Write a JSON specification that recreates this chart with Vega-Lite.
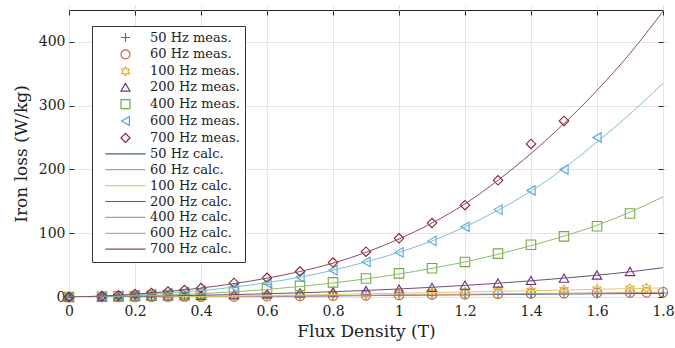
{
  "$schema": "https://vega.github.io/schema/vega-lite/v6.json",
  "width": 594,
  "height": 287,
  "autosize": {"type": "none"},
  "padding": {"left": 69, "top": 10, "right": 12, "bottom": 51},
  "config": {
    "font": "DejaVu Serif",
    "view": {"stroke": "#262626", "strokeWidth": 1},
    "axis": {
      "labelFont": "DejaVu Serif",
      "titleFont": "DejaVu Serif",
      "labelFontSize": 14,
      "titleFontSize": 17,
      "titleFontWeight": "normal",
      "labelColor": "#222222",
      "titleColor": "#222222",
      "tickColor": "#262626",
      "tickWidth": 1,
      "tickSize": 5,
      "offset": -5,
      "domain": false,
      "gridColor": "#e3e3e3",
      "gridWidth": 1
    },
    "legend": {
      "labelFont": "DejaVu Serif",
      "labelFontSize": 13,
      "labelColor": "#222222"
    }
  },
  "datasets": {
    "meas": [
      {"s": "50 Hz meas.", "B": 0, "P": 0},
      {"s": "50 Hz meas.", "B": 0.1, "P": 0.03},
      {"s": "50 Hz meas.", "B": 0.15, "P": 0.07},
      {"s": "50 Hz meas.", "B": 0.2, "P": 0.12},
      {"s": "50 Hz meas.", "B": 0.25, "P": 0.18},
      {"s": "50 Hz meas.", "B": 0.3, "P": 0.26},
      {"s": "50 Hz meas.", "B": 0.35, "P": 0.35},
      {"s": "50 Hz meas.", "B": 0.4, "P": 0.45},
      {"s": "50 Hz meas.", "B": 0.5, "P": 0.7},
      {"s": "50 Hz meas.", "B": 0.6, "P": 1.0},
      {"s": "50 Hz meas.", "B": 0.7, "P": 1.35},
      {"s": "50 Hz meas.", "B": 0.8, "P": 1.75},
      {"s": "50 Hz meas.", "B": 0.9, "P": 2.2},
      {"s": "50 Hz meas.", "B": 1.0, "P": 2.7},
      {"s": "50 Hz meas.", "B": 1.1, "P": 3.2},
      {"s": "50 Hz meas.", "B": 1.2, "P": 3.7},
      {"s": "50 Hz meas.", "B": 1.3, "P": 4.2},
      {"s": "50 Hz meas.", "B": 1.4, "P": 4.7},
      {"s": "50 Hz meas.", "B": 1.5, "P": 5.1},
      {"s": "50 Hz meas.", "B": 1.6, "P": 5.5},
      {"s": "50 Hz meas.", "B": 1.7, "P": 5.9},
      {"s": "50 Hz meas.", "B": 1.8, "P": 6.3},
      {"s": "60 Hz meas.", "B": 0, "P": 0},
      {"s": "60 Hz meas.", "B": 0.1, "P": 0.04},
      {"s": "60 Hz meas.", "B": 0.15, "P": 0.09},
      {"s": "60 Hz meas.", "B": 0.2, "P": 0.15},
      {"s": "60 Hz meas.", "B": 0.25, "P": 0.23},
      {"s": "60 Hz meas.", "B": 0.3, "P": 0.32},
      {"s": "60 Hz meas.", "B": 0.35, "P": 0.43},
      {"s": "60 Hz meas.", "B": 0.4, "P": 0.55},
      {"s": "60 Hz meas.", "B": 0.5, "P": 0.85},
      {"s": "60 Hz meas.", "B": 0.6, "P": 1.2},
      {"s": "60 Hz meas.", "B": 0.7, "P": 1.6},
      {"s": "60 Hz meas.", "B": 0.8, "P": 2.1},
      {"s": "60 Hz meas.", "B": 0.9, "P": 2.6},
      {"s": "60 Hz meas.", "B": 1.0, "P": 3.2},
      {"s": "60 Hz meas.", "B": 1.1, "P": 3.8},
      {"s": "60 Hz meas.", "B": 1.2, "P": 4.4},
      {"s": "60 Hz meas.", "B": 1.3, "P": 5.0},
      {"s": "60 Hz meas.", "B": 1.4, "P": 5.5},
      {"s": "60 Hz meas.", "B": 1.5, "P": 6.0},
      {"s": "60 Hz meas.", "B": 1.6, "P": 6.5},
      {"s": "60 Hz meas.", "B": 1.7, "P": 7.0},
      {"s": "60 Hz meas.", "B": 1.75, "P": 7.3},
      {"s": "60 Hz meas.", "B": 1.8, "P": 7.6},
      {"s": "100 Hz meas.", "B": 0, "P": 0},
      {"s": "100 Hz meas.", "B": 0.1, "P": 0.08},
      {"s": "100 Hz meas.", "B": 0.15, "P": 0.17},
      {"s": "100 Hz meas.", "B": 0.2, "P": 0.3},
      {"s": "100 Hz meas.", "B": 0.25, "P": 0.45},
      {"s": "100 Hz meas.", "B": 0.3, "P": 0.62},
      {"s": "100 Hz meas.", "B": 0.35, "P": 0.82},
      {"s": "100 Hz meas.", "B": 0.4, "P": 1.05},
      {"s": "100 Hz meas.", "B": 0.5, "P": 1.6},
      {"s": "100 Hz meas.", "B": 0.6, "P": 2.3},
      {"s": "100 Hz meas.", "B": 0.7, "P": 3.1},
      {"s": "100 Hz meas.", "B": 0.8, "P": 4.0},
      {"s": "100 Hz meas.", "B": 0.9, "P": 5.0},
      {"s": "100 Hz meas.", "B": 1.0, "P": 6.0},
      {"s": "100 Hz meas.", "B": 1.1, "P": 7.0},
      {"s": "100 Hz meas.", "B": 1.2, "P": 8.0},
      {"s": "100 Hz meas.", "B": 1.3, "P": 9.0},
      {"s": "100 Hz meas.", "B": 1.4, "P": 10.0},
      {"s": "100 Hz meas.", "B": 1.5, "P": 11.0},
      {"s": "100 Hz meas.", "B": 1.6, "P": 12.0},
      {"s": "100 Hz meas.", "B": 1.7, "P": 13.2},
      {"s": "100 Hz meas.", "B": 1.75, "P": 14.0},
      {"s": "200 Hz meas.", "B": 0, "P": 0},
      {"s": "200 Hz meas.", "B": 0.1, "P": 0.3},
      {"s": "200 Hz meas.", "B": 0.15, "P": 0.6},
      {"s": "200 Hz meas.", "B": 0.2, "P": 0.9},
      {"s": "200 Hz meas.", "B": 0.25, "P": 1.3},
      {"s": "200 Hz meas.", "B": 0.3, "P": 1.7},
      {"s": "200 Hz meas.", "B": 0.35, "P": 2.2},
      {"s": "200 Hz meas.", "B": 0.4, "P": 2.7},
      {"s": "200 Hz meas.", "B": 0.5, "P": 3.8},
      {"s": "200 Hz meas.", "B": 0.6, "P": 5.0},
      {"s": "200 Hz meas.", "B": 0.7, "P": 6.5},
      {"s": "200 Hz meas.", "B": 0.8, "P": 8.2},
      {"s": "200 Hz meas.", "B": 0.9, "P": 10.2},
      {"s": "200 Hz meas.", "B": 1.0, "P": 12.5},
      {"s": "200 Hz meas.", "B": 1.1, "P": 15.0},
      {"s": "200 Hz meas.", "B": 1.2, "P": 18.5},
      {"s": "200 Hz meas.", "B": 1.3, "P": 22.0},
      {"s": "200 Hz meas.", "B": 1.4, "P": 26.0},
      {"s": "200 Hz meas.", "B": 1.5, "P": 29.5},
      {"s": "200 Hz meas.", "B": 1.6, "P": 34.5},
      {"s": "200 Hz meas.", "B": 1.7, "P": 40.0},
      {"s": "400 Hz meas.", "B": 0, "P": 0},
      {"s": "400 Hz meas.", "B": 0.1, "P": 0.5},
      {"s": "400 Hz meas.", "B": 0.15, "P": 1.0},
      {"s": "400 Hz meas.", "B": 0.2, "P": 1.6},
      {"s": "400 Hz meas.", "B": 0.25, "P": 2.3},
      {"s": "400 Hz meas.", "B": 0.3, "P": 3.1},
      {"s": "400 Hz meas.", "B": 0.35, "P": 4.1},
      {"s": "400 Hz meas.", "B": 0.4, "P": 5.2},
      {"s": "400 Hz meas.", "B": 0.5, "P": 8.0},
      {"s": "400 Hz meas.", "B": 0.6, "P": 12.5},
      {"s": "400 Hz meas.", "B": 0.7, "P": 17.5},
      {"s": "400 Hz meas.", "B": 0.8, "P": 23.0},
      {"s": "400 Hz meas.", "B": 0.9, "P": 29.0},
      {"s": "400 Hz meas.", "B": 1.0, "P": 37.0},
      {"s": "400 Hz meas.", "B": 1.1, "P": 45.0},
      {"s": "400 Hz meas.", "B": 1.2, "P": 55.0},
      {"s": "400 Hz meas.", "B": 1.3, "P": 68.0},
      {"s": "400 Hz meas.", "B": 1.4, "P": 82.0},
      {"s": "400 Hz meas.", "B": 1.5, "P": 95.0},
      {"s": "400 Hz meas.", "B": 1.6, "P": 111.0},
      {"s": "400 Hz meas.", "B": 1.7, "P": 131.0},
      {"s": "600 Hz meas.", "B": 0, "P": 0},
      {"s": "600 Hz meas.", "B": 0.1, "P": 1.0},
      {"s": "600 Hz meas.", "B": 0.15, "P": 2.0},
      {"s": "600 Hz meas.", "B": 0.2, "P": 3.2},
      {"s": "600 Hz meas.", "B": 0.25, "P": 4.5},
      {"s": "600 Hz meas.", "B": 0.3, "P": 6.0},
      {"s": "600 Hz meas.", "B": 0.35, "P": 8.0},
      {"s": "600 Hz meas.", "B": 0.4, "P": 10.0},
      {"s": "600 Hz meas.", "B": 0.5, "P": 15.5},
      {"s": "600 Hz meas.", "B": 0.6, "P": 22.0},
      {"s": "600 Hz meas.", "B": 0.7, "P": 31.0},
      {"s": "600 Hz meas.", "B": 0.8, "P": 42.0},
      {"s": "600 Hz meas.", "B": 0.9, "P": 55.0},
      {"s": "600 Hz meas.", "B": 1.0, "P": 70.0},
      {"s": "600 Hz meas.", "B": 1.1, "P": 88.0},
      {"s": "600 Hz meas.", "B": 1.2, "P": 110.0},
      {"s": "600 Hz meas.", "B": 1.3, "P": 137.0},
      {"s": "600 Hz meas.", "B": 1.4, "P": 167.0},
      {"s": "600 Hz meas.", "B": 1.5, "P": 200.0},
      {"s": "600 Hz meas.", "B": 1.6, "P": 250.0},
      {"s": "700 Hz meas.", "B": 0, "P": 0},
      {"s": "700 Hz meas.", "B": 0.1, "P": 1.5},
      {"s": "700 Hz meas.", "B": 0.15, "P": 2.8},
      {"s": "700 Hz meas.", "B": 0.2, "P": 4.5},
      {"s": "700 Hz meas.", "B": 0.25, "P": 6.3},
      {"s": "700 Hz meas.", "B": 0.3, "P": 8.5},
      {"s": "700 Hz meas.", "B": 0.35, "P": 11.0},
      {"s": "700 Hz meas.", "B": 0.4, "P": 14.0},
      {"s": "700 Hz meas.", "B": 0.5, "P": 22.0},
      {"s": "700 Hz meas.", "B": 0.6, "P": 30.0},
      {"s": "700 Hz meas.", "B": 0.7, "P": 40.0},
      {"s": "700 Hz meas.", "B": 0.8, "P": 54.0},
      {"s": "700 Hz meas.", "B": 0.9, "P": 71.0},
      {"s": "700 Hz meas.", "B": 1.0, "P": 92.0},
      {"s": "700 Hz meas.", "B": 1.1, "P": 116.0},
      {"s": "700 Hz meas.", "B": 1.2, "P": 144.0},
      {"s": "700 Hz meas.", "B": 1.3, "P": 183.0},
      {"s": "700 Hz meas.", "B": 1.4, "P": 240.0},
      {"s": "700 Hz meas.", "B": 1.5, "P": 276.0}
    ],
    "calc": [
      {"s": "50 Hz calc.", "B": 0, "P": 0},
      {"s": "50 Hz calc.", "B": 0.1, "P": 0.03},
      {"s": "50 Hz calc.", "B": 0.2, "P": 0.12},
      {"s": "50 Hz calc.", "B": 0.3, "P": 0.26},
      {"s": "50 Hz calc.", "B": 0.4, "P": 0.45},
      {"s": "50 Hz calc.", "B": 0.5, "P": 0.7},
      {"s": "50 Hz calc.", "B": 0.6, "P": 1.0},
      {"s": "50 Hz calc.", "B": 0.7, "P": 1.35},
      {"s": "50 Hz calc.", "B": 0.8, "P": 1.75},
      {"s": "50 Hz calc.", "B": 0.9, "P": 2.2},
      {"s": "50 Hz calc.", "B": 1.0, "P": 2.65},
      {"s": "50 Hz calc.", "B": 1.1, "P": 3.1},
      {"s": "50 Hz calc.", "B": 1.2, "P": 3.5},
      {"s": "50 Hz calc.", "B": 1.3, "P": 3.9},
      {"s": "50 Hz calc.", "B": 1.4, "P": 4.3},
      {"s": "50 Hz calc.", "B": 1.5, "P": 4.7},
      {"s": "50 Hz calc.", "B": 1.6, "P": 5.0},
      {"s": "50 Hz calc.", "B": 1.7, "P": 5.3},
      {"s": "50 Hz calc.", "B": 1.8, "P": 5.6},
      {"s": "60 Hz calc.", "B": 0, "P": 0},
      {"s": "60 Hz calc.", "B": 0.1, "P": 0.04},
      {"s": "60 Hz calc.", "B": 0.2, "P": 0.15},
      {"s": "60 Hz calc.", "B": 0.3, "P": 0.32},
      {"s": "60 Hz calc.", "B": 0.4, "P": 0.55},
      {"s": "60 Hz calc.", "B": 0.5, "P": 0.85},
      {"s": "60 Hz calc.", "B": 0.6, "P": 1.2},
      {"s": "60 Hz calc.", "B": 0.7, "P": 1.6},
      {"s": "60 Hz calc.", "B": 0.8, "P": 2.1},
      {"s": "60 Hz calc.", "B": 0.9, "P": 2.6},
      {"s": "60 Hz calc.", "B": 1.0, "P": 3.15},
      {"s": "60 Hz calc.", "B": 1.1, "P": 3.7},
      {"s": "60 Hz calc.", "B": 1.2, "P": 4.25},
      {"s": "60 Hz calc.", "B": 1.3, "P": 4.8},
      {"s": "60 Hz calc.", "B": 1.4, "P": 5.35},
      {"s": "60 Hz calc.", "B": 1.5, "P": 5.9},
      {"s": "60 Hz calc.", "B": 1.6, "P": 6.4},
      {"s": "60 Hz calc.", "B": 1.7, "P": 6.9},
      {"s": "60 Hz calc.", "B": 1.8, "P": 7.4},
      {"s": "100 Hz calc.", "B": 0, "P": 0},
      {"s": "100 Hz calc.", "B": 0.1, "P": 0.08},
      {"s": "100 Hz calc.", "B": 0.2, "P": 0.3},
      {"s": "100 Hz calc.", "B": 0.3, "P": 0.62},
      {"s": "100 Hz calc.", "B": 0.4, "P": 1.05},
      {"s": "100 Hz calc.", "B": 0.5, "P": 1.6},
      {"s": "100 Hz calc.", "B": 0.6, "P": 2.3},
      {"s": "100 Hz calc.", "B": 0.7, "P": 3.1},
      {"s": "100 Hz calc.", "B": 0.8, "P": 4.0},
      {"s": "100 Hz calc.", "B": 0.9, "P": 4.9},
      {"s": "100 Hz calc.", "B": 1.0, "P": 5.9},
      {"s": "100 Hz calc.", "B": 1.1, "P": 6.9},
      {"s": "100 Hz calc.", "B": 1.2, "P": 7.9},
      {"s": "100 Hz calc.", "B": 1.3, "P": 8.9},
      {"s": "100 Hz calc.", "B": 1.4, "P": 9.9},
      {"s": "100 Hz calc.", "B": 1.5, "P": 10.9},
      {"s": "100 Hz calc.", "B": 1.6, "P": 12.0},
      {"s": "100 Hz calc.", "B": 1.7, "P": 13.1},
      {"s": "100 Hz calc.", "B": 1.8, "P": 14.3},
      {"s": "200 Hz calc.", "B": 0, "P": 0},
      {"s": "200 Hz calc.", "B": 0.1, "P": 0.3},
      {"s": "200 Hz calc.", "B": 0.2, "P": 0.9},
      {"s": "200 Hz calc.", "B": 0.3, "P": 1.7},
      {"s": "200 Hz calc.", "B": 0.4, "P": 2.7},
      {"s": "200 Hz calc.", "B": 0.5, "P": 3.8},
      {"s": "200 Hz calc.", "B": 0.6, "P": 5.1},
      {"s": "200 Hz calc.", "B": 0.7, "P": 6.6},
      {"s": "200 Hz calc.", "B": 0.8, "P": 8.3},
      {"s": "200 Hz calc.", "B": 0.9, "P": 10.3},
      {"s": "200 Hz calc.", "B": 1.0, "P": 12.6},
      {"s": "200 Hz calc.", "B": 1.1, "P": 15.2},
      {"s": "200 Hz calc.", "B": 1.2, "P": 18.2},
      {"s": "200 Hz calc.", "B": 1.3, "P": 21.6},
      {"s": "200 Hz calc.", "B": 1.4, "P": 25.4},
      {"s": "200 Hz calc.", "B": 1.5, "P": 29.6},
      {"s": "200 Hz calc.", "B": 1.6, "P": 34.2},
      {"s": "200 Hz calc.", "B": 1.7, "P": 39.5},
      {"s": "200 Hz calc.", "B": 1.8, "P": 46.0},
      {"s": "400 Hz calc.", "B": 0, "P": 0},
      {"s": "400 Hz calc.", "B": 0.1, "P": 0.5},
      {"s": "400 Hz calc.", "B": 0.2, "P": 1.6},
      {"s": "400 Hz calc.", "B": 0.3, "P": 3.1},
      {"s": "400 Hz calc.", "B": 0.4, "P": 5.2},
      {"s": "400 Hz calc.", "B": 0.5, "P": 8.0},
      {"s": "400 Hz calc.", "B": 0.6, "P": 11.8},
      {"s": "400 Hz calc.", "B": 0.7, "P": 16.5},
      {"s": "400 Hz calc.", "B": 0.8, "P": 22.0},
      {"s": "400 Hz calc.", "B": 0.9, "P": 28.5},
      {"s": "400 Hz calc.", "B": 1.0, "P": 36.0},
      {"s": "400 Hz calc.", "B": 1.1, "P": 45.0},
      {"s": "400 Hz calc.", "B": 1.2, "P": 55.0},
      {"s": "400 Hz calc.", "B": 1.3, "P": 67.0},
      {"s": "400 Hz calc.", "B": 1.4, "P": 80.5},
      {"s": "400 Hz calc.", "B": 1.5, "P": 95.5},
      {"s": "400 Hz calc.", "B": 1.6, "P": 112.5},
      {"s": "400 Hz calc.", "B": 1.7, "P": 133.0},
      {"s": "400 Hz calc.", "B": 1.8, "P": 157.0},
      {"s": "600 Hz calc.", "B": 0, "P": 0},
      {"s": "600 Hz calc.", "B": 0.1, "P": 1.1},
      {"s": "600 Hz calc.", "B": 0.2, "P": 3.3},
      {"s": "600 Hz calc.", "B": 0.3, "P": 6.2},
      {"s": "600 Hz calc.", "B": 0.4, "P": 10.0},
      {"s": "600 Hz calc.", "B": 0.5, "P": 15.5},
      {"s": "600 Hz calc.", "B": 0.6, "P": 22.5},
      {"s": "600 Hz calc.", "B": 0.7, "P": 31.0},
      {"s": "600 Hz calc.", "B": 0.8, "P": 42.0},
      {"s": "600 Hz calc.", "B": 0.9, "P": 55.0},
      {"s": "600 Hz calc.", "B": 1.0, "P": 70.0},
      {"s": "600 Hz calc.", "B": 1.1, "P": 88.0},
      {"s": "600 Hz calc.", "B": 1.2, "P": 110.0},
      {"s": "600 Hz calc.", "B": 1.3, "P": 136.0},
      {"s": "600 Hz calc.", "B": 1.4, "P": 166.0},
      {"s": "600 Hz calc.", "B": 1.5, "P": 202.0},
      {"s": "600 Hz calc.", "B": 1.6, "P": 243.0},
      {"s": "600 Hz calc.", "B": 1.7, "P": 287.0},
      {"s": "600 Hz calc.", "B": 1.8, "P": 335.0},
      {"s": "700 Hz calc.", "B": 0, "P": 0},
      {"s": "700 Hz calc.", "B": 0.1, "P": 1.5},
      {"s": "700 Hz calc.", "B": 0.2, "P": 4.5},
      {"s": "700 Hz calc.", "B": 0.3, "P": 8.7},
      {"s": "700 Hz calc.", "B": 0.4, "P": 14.0},
      {"s": "700 Hz calc.", "B": 0.5, "P": 21.0},
      {"s": "700 Hz calc.", "B": 0.6, "P": 29.5},
      {"s": "700 Hz calc.", "B": 0.7, "P": 40.0},
      {"s": "700 Hz calc.", "B": 0.8, "P": 53.0},
      {"s": "700 Hz calc.", "B": 0.9, "P": 70.0},
      {"s": "700 Hz calc.", "B": 1.0, "P": 91.0},
      {"s": "700 Hz calc.", "B": 1.1, "P": 116.0},
      {"s": "700 Hz calc.", "B": 1.2, "P": 146.0},
      {"s": "700 Hz calc.", "B": 1.3, "P": 183.0},
      {"s": "700 Hz calc.", "B": 1.4, "P": 225.0},
      {"s": "700 Hz calc.", "B": 1.5, "P": 272.0},
      {"s": "700 Hz calc.", "B": 1.6, "P": 324.0},
      {"s": "700 Hz calc.", "B": 1.7, "P": 382.0},
      {"s": "700 Hz calc.", "B": 1.8, "P": 448.0}
    ]
  },
  "resolve": {"axis": {"x": "independent", "y": "independent"}},
  "layer": [
    {
      "data": {"name": "meas"},
      "mark": {"type": "point", "filled": false, "size": 90, "strokeWidth": 1.1, "opacity": 1},
      "encoding": {
        "x": {
          "field": "B", "type": "quantitative",
          "scale": {"domain": [0, 1.8], "nice": false, "zero": false},
          "axis": {
            "title": "Flux Density (T)",
            "values": [0, 0.2, 0.4, 0.6, 0.8, 1, 1.2, 1.4, 1.6, 1.8],
            "format": "~g",
            "grid": true,
            "labelPadding": 7,
            "titlePadding": 5,
            "labelFlush": false,
            "labelOverlap": false
          }
        },
        "y": {
          "field": "P", "type": "quantitative",
          "scale": {"domain": [0, 450], "nice": false},
          "axis": {
            "title": "Iron loss (W/kg)",
            "values": [0, 100, 200, 300, 400],
            "grid": true,
            "labelPadding": 4,
            "titlePadding": 8,
            "labelFlush": false,
            "labelOverlap": false
          }
        },
        "stroke": {
          "field": "s", "type": "nominal",
          "scale": {
            "domain": ["50 Hz meas.", "60 Hz meas.", "100 Hz meas.", "200 Hz meas.", "400 Hz meas.", "600 Hz meas.", "700 Hz meas.", "50 Hz calc.", "60 Hz calc.", "100 Hz calc.", "200 Hz calc.", "400 Hz calc.", "600 Hz calc.", "700 Hz calc."],
            "range": ["#1f82c8", "#c8693f", "#e0b030", "#6e2f80", "#77a840", "#4aa8d8", "#8a1f30", "#3f6283", "#c89a85", "#e5c867", "#6e4d7a", "#8fba6a", "#80bcd6", "#8c4a5a"]
          },
          "legend": {
            "title": null,
            "orient": "none",
            "legendX": 23,
            "legendY": 16,
            "padding": 5,
            "strokeColor": "#333333",
            "fillColor": "#ffffff",
            "symbolSize": 80,
            "symbolOffset": 22,
            "labelOffset": 18,
            "rowPadding": 1.9,
            "symbolStrokeWidth": 1.2,
            "symbolFillColor": "transparent"
          }
        },
        "shape": {
          "field": "s", "type": "nominal",
          "scale": {
            "domain": ["50 Hz meas.", "60 Hz meas.", "100 Hz meas.", "200 Hz meas.", "400 Hz meas.", "600 Hz meas.", "700 Hz meas.", "50 Hz calc.", "60 Hz calc.", "100 Hz calc.", "200 Hz calc.", "400 Hz calc.", "600 Hz calc.", "700 Hz calc."],
            "range": ["M-1,0H1M0,-1V1", "circle", "M0,-1L0.2887,-0.5L0.866,-0.5L0.577,0L0.866,0.5L0.2887,0.5L0,1L-0.2887,0.5L-0.866,0.5L-0.577,0L-0.866,-0.5L-0.2887,-0.5Z", "triangle-up", "square", "triangle-left", "diamond", "M-4.5,0H4.5", "M-4.5,0H4.5", "M-4.5,0H4.5", "M-4.5,0H4.5", "M-4.5,0H4.5", "M-4.5,0H4.5", "M-4.5,0H4.5"]
          },
          "legend": {
            "title": null,
            "orient": "none",
            "legendX": 23,
            "legendY": 16,
            "padding": 5,
            "strokeColor": "#333333",
            "fillColor": "#ffffff",
            "symbolSize": 80,
            "symbolOffset": 22,
            "labelOffset": 18,
            "rowPadding": 1.9,
            "symbolStrokeWidth": 1.2,
            "symbolFillColor": "transparent"
          }
        }
      }
    },
    {
      "data": {"name": "calc"},
      "mark": {"type": "line", "strokeWidth": 1, "interpolate": "monotone", "clip": true},
      "encoding": {
        "x": {
          "field": "B", "type": "quantitative",
          "axis": {
            "orient": "top", "title": null, "labels": false, "grid": false,
            "values": [0, 0.2, 0.4, 0.6, 0.8, 1, 1.2, 1.4, 1.6, 1.8]
          }
        },
        "y": {
          "field": "P", "type": "quantitative",
          "axis": {
            "orient": "right", "title": null, "labels": false, "grid": false,
            "values": [0, 100, 200, 300, 400]
          }
        },
        "stroke": {"field": "s", "type": "nominal"}
      }
    }
  ]
}
